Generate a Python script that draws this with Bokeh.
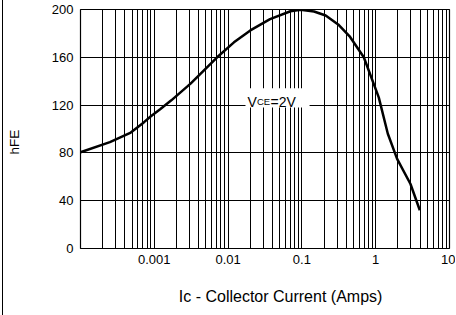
from bokeh.plotting import figure
from bokeh.models import FixedTicker, Label, BoxAnnotation
from bokeh.embed import file_html
from bokeh.resources import INLINE

# Data (hFE vs collector current, VCE = 2V)
ic_amps = [1e-4, 2.5e-4, 4.8e-4, 7.2e-4, 8.9e-4, 1.2e-3, 1.7e-3, 3.1e-3, 7.1e-3,
           0.012, 0.02, 0.037, 0.07, 0.096, 0.146, 0.21, 0.31, 0.45, 0.69, 1.1,
           1.46, 1.95, 2.96, 3.96]
hfe = [80.5, 89, 97, 105.5, 110.5, 116.5, 124, 138, 160,
       172.5, 182.5, 192, 198.5, 199.7, 198.3, 195, 187.5, 177, 160, 126.5,
       96, 75, 54, 32]

x_ticks = [1e-3, 1e-2, 1e-1, 1, 10]
x_tick_labels = ["0.001", "0.01", "0.1", "1", "10"]
y_ticks = [0, 40, 80, 120, 160, 200]
decades = [1e-4, 1e-3, 1e-2, 1e-1, 1]
multipliers = [1, 2, 3, 4, 5, 6, 7, 8, 9]

FONT = "Liberation Sans"
NB = "\u00a0"

p = figure(width=453, height=315, x_axis_type="log",
           x_range=(1e-4, 10), y_range=(0, 200),
           output_backend="svg", toolbar_location=None,
           min_border_left=76, min_border_right=7,
           min_border_top=9, min_border_bottom=67)
p.styles = {"margin-left": "2px", "border-left": "1px solid black"}

p.background_fill_color = "white"
p.border_fill_color = "white"
p.outline_line_color = "black"
p.outline_line_width = 1.2

# Grid
grid_x = [d * m for d in decades for m in multipliers] + [10]
p.xgrid.ticker = FixedTicker(ticks=grid_x)
p.xgrid.grid_line_color = "black"
p.xgrid.grid_line_width = 1
p.ygrid.ticker = FixedTicker(ticks=y_ticks)
p.ygrid.grid_line_color = "black"
p.ygrid.grid_line_width = 1

# Axes
p.xaxis.ticker = FixedTicker(ticks=x_ticks)
p.xaxis.major_label_overrides = {t: s for t, s in zip(x_ticks, x_tick_labels)}
p.yaxis.ticker = FixedTicker(ticks=y_ticks)
for ax in (p.xaxis[0], p.yaxis[0]):
    ax.axis_line_color = None
    ax.major_tick_line_color = None
    ax.minor_tick_line_color = None
    ax.major_tick_out = 0
    ax.major_tick_in = 0
    ax.minor_tick_out = 0
    ax.minor_tick_in = 0
    ax.major_label_text_font = FONT
    ax.major_label_text_font_size = "13px"
    ax.major_label_text_color = "black"
    ax.axis_label_text_font = FONT
    ax.axis_label_text_font_style = "normal"
    ax.axis_label_text_color = "black"
p.xaxis.major_label_standoff = 6
p.yaxis.major_label_standoff = 7

p.xaxis.axis_label = NB * 7 + "I\u1d04 - Collector Current (Amps)"
p.xaxis.axis_label_text_font_size = "16px"
p.xaxis.axis_label_standoff = 21

p.yaxis.axis_label = "hFE" + NB * 7
p.yaxis.axis_label_text_font_size = "13.5px"
p.yaxis.axis_label_standoff = 27

# Curve
p.line(ic_amps, hfe, line_color="black", line_width=2.5)

# VCE=2V annotation with white background box
p.add_layout(BoxAnnotation(left=0.0172, right=0.127, bottom=118, top=134,
                           fill_color="white", fill_alpha=1.0, line_color=None))
vx, vy = 0.0183, 123
for txt, size, off in [("V", "14px", 0), ("CE", "9.5px", 9.5), ("=2V", "14px", 23)]:
    p.add_layout(Label(x=vx, y=vy, text=txt, x_offset=off, text_font=FONT,
                       text_font_size=size, text_color="black",
                       text_align="left", text_baseline="alphabetic"))

open("out.html", "w").write(file_html(p, INLINE))
